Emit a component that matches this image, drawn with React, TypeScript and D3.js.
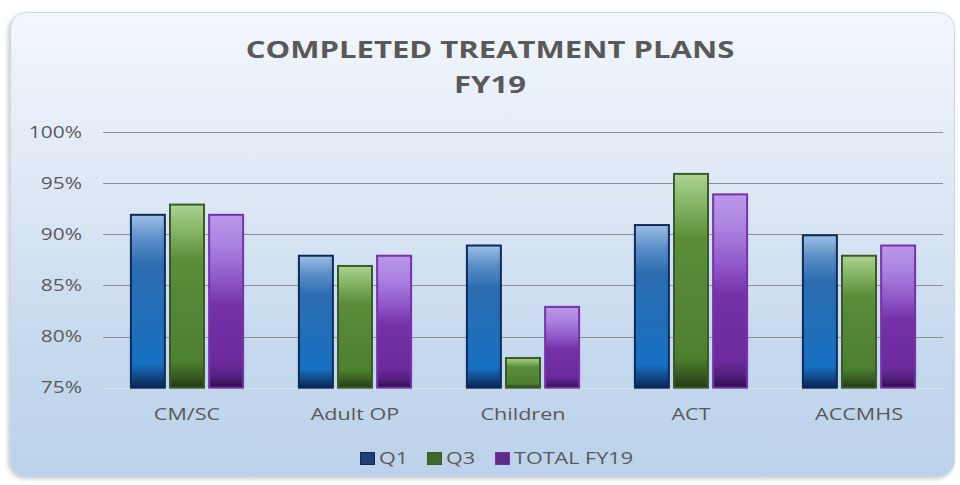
import React from "react";
import * as d3 from "d3";

const categories = ["CM/SC", "Adult OP", "Children", "ACT", "ACCMHS"];
const seriesNames = ["Q1", "Q3", "TOTAL FY19"];
const q1Values = [92, 88, 89, 91, 90];
const q3Values = [93, 87, 78, 96, 88];
const totalValues = [92, 88, 83, 94, 89];
const yTicks = [75, 80, 85, 90, 95, 100];
const titleLines = ["COMPLETED TREATMENT PLANS", "FY19"];

const W = 960;
const H = 485;
const FONT = "'Open Sans', sans-serif";
const SX = 1.35;

const seriesStyles = [
  {
    id: "gQ1",
    stroke: "#0f2a5a",
    legend: "#1f3f74",
    stops: [
      [0, "#9cbfe4"],
      [0.14, "#5b8ec9"],
      [0.3, "#2c6cb0"],
      [0.86, "#1670c2"],
      [0.94, "#114683"],
      [1, "#0a2550"],
    ],
  },
  {
    id: "gQ3",
    stroke: "#3b5a2b",
    legend: "#3d6a2b",
    stops: [
      [0, "#acd391"],
      [0.14, "#86b566"],
      [0.3, "#5b8e3b"],
      [0.86, "#4c7f2e"],
      [0.94, "#365a20"],
      [1, "#213a13"],
    ],
  },
  {
    id: "gTot",
    stroke: "#7433a8",
    legend: "#5d2a8a",
    stops: [
      [0, "#bb98ea"],
      [0.18, "#a982e0"],
      [0.38, "#8f55c8"],
      [0.52, "#7431a8"],
      [0.86, "#6b2a9e"],
      [0.94, "#521f7c"],
      [1, "#2e0d48"],
    ],
  },
];

export default function App() {
  const left = 103;
  const right = 943;
  const top = 132;
  const bottom = 387.7;

  const x0 = d3
    .scaleBand<string>()
    .domain(categories)
    .range([left, right])
    .paddingInner(0.32)
    .paddingOuter(0.16);
  const x1 = d3
    .scaleBand<string>()
    .domain(seriesNames)
    .range([0, x0.bandwidth()])
    .paddingInner(0.08);
  const y = d3.scaleLinear().domain([75, 100]).range([bottom, top]);

  const allValues = [q1Values, q3Values, totalValues];

  const legendX = [360, 427, 495];

  return (
    <svg
      width={W}
      height={H}
      style={{ position: "absolute", left: 0, top: 0, background: "#ffffff" }}
    >
      <defs>
        <linearGradient id="bg" x1="0" y1="0" x2="0" y2="1">
          <stop offset="0" stopColor="#f3f7fc" />
          <stop offset="0.35" stopColor="#dfe9f5" />
          <stop offset="0.75" stopColor="#c4d8ed" />
          <stop offset="1" stopColor="#bcd2ea" />
        </linearGradient>
        <filter id="shadow" x="-5%" y="-5%" width="110%" height="110%">
          <feDropShadow dx="-2" dy="2" stdDeviation="2" floodColor="#8a99aa" floodOpacity="0.5" />
        </filter>
        {seriesStyles.map((s) => (
          <linearGradient key={s.id} id={s.id} x1="0" y1="0" x2="0" y2="1">
            {s.stops.map(([o, c], i) => (
              <stop key={i} offset={o as number} stopColor={c as string} />
            ))}
          </linearGradient>
        ))}
      </defs>

      <rect
        x={10.5}
        y={12.5}
        width={944}
        height={464}
        rx={16}
        ry={16}
        fill="url(#bg)"
        stroke="#d0d6de"
        strokeWidth={1}
        filter="url(#shadow)"
      />

      {/* Title */}
      {titleLines.map((t, i) => (
        <text
          key={t}
          transform={`translate(490,${58 + i * 35}) scale(${SX},1)`}
          textAnchor="middle"
          fontFamily={FONT}
          fontWeight={700}
          fontSize={23}
          fill="#595959"
        >
          {t}
        </text>
      ))}

      {/* Gridlines */}
      {yTicks.map((t) => (
        <line
          key={t}
          x1={left}
          x2={right}
          y1={Math.round(y(t)) + 0.5}
          y2={Math.round(y(t)) + 0.5}
          stroke={t === 75 ? "#dbe6f1" : "#8c9096"}
          strokeWidth={1}
        />
      ))}

      {/* Y tick labels */}
      {yTicks.map((t) => (
        <text
          key={"l" + t}
          transform={`translate(82,${y(t) + 5.5}) scale(${SX},1)`}
          textAnchor="end"
          fontFamily={FONT}
          fontSize={15.5}
          fill="#595959"
        >
          {t}%
        </text>
      ))}

      {/* Bars */}
      {categories.map((c, ci) => (
        <g key={c} transform={`translate(${x0(c)},0)`}>
          {seriesNames.map((s, si) => {
            const v = allValues[si][ci];
            const bx = x1(s)!;
            const bw = x1.bandwidth();
            return (
              <rect
                key={s}
                x={bx + 1}
                y={y(v) + 1}
                width={bw - 2}
                height={bottom - y(v) - 1}
                fill={`url(#${seriesStyles[si].id})`}
                stroke={seriesStyles[si].stroke}
                strokeWidth={2}
              />
            );
          })}
        </g>
      ))}

      {/* X labels */}
      {categories.map((c) => (
        <text
          key={"x" + c}
          transform={`translate(${x0(c)! + x0.bandwidth() / 2},420) scale(${SX},1)`}
          textAnchor="middle"
          fontFamily={FONT}
          fontSize={16}
          fill="#595959"
        >
          {c}
        </text>
      ))}

      {/* Legend */}
      {seriesNames.map((s, i) => (
        <g key={"lg" + s}>
          <rect
            x={legendX[i] + 0.5}
            y={452.5}
            width={14}
            height={12}
            fill={seriesStyles[i].legend}
            stroke={seriesStyles[i].stroke}
            strokeWidth={1}
          />
          <text
            transform={`translate(${legendX[i] + 19},464) scale(${SX},1)`}
            fontFamily={FONT}
            fontSize={16}
            fill="#595959"
          >
            {s}
          </text>
        </g>
      ))}
    </svg>
  );
}
